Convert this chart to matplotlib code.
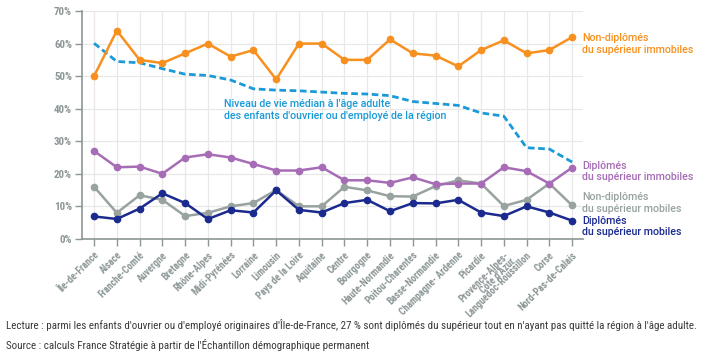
import matplotlib
matplotlib.use("Agg")
import matplotlib.pyplot as plt

regions = ["Île-de-France", "Alsace", "Franche-Comté", "Auvergne", "Bretagne", "Rhône-Alpes",
           "Midi-Pyrénées", "Lorraine", "Limousin", "Pays de la Loire", "Aquitaine", "Centre",
           "Bourgogne", "Haute-Normandie", "Poitou-Charentes", "Basse-Normandie",
           "Champagne- Ardenne", "Picardie", "Provence-Alpes-\nCôte d'Azur",
           "Languedoc-Roussillon", "Corse", "Nord-Pas-de-Calais"]

non_dipl_immobiles = [50, 64, 55, 54, 57, 60, 56, 58, 49, 60, 60, 55, 55, 61.3, 57, 56.3, 53, 58, 61, 57, 58, 62]
dipl_immobiles = [27, 22, 22.2, 20, 25, 26, 25, 23, 21, 21, 22, 18, 18, 17.2, 18.9, 16.8, 17, 17, 22, 20.8, 17, 21.9]
non_dipl_mobiles = [16, 8, 13.4, 12, 7, 8, 10, 11, 15, 10, 10, 16, 14.9, 13.1, 13, 16.2, 18, 17, 10.1, 12, 17, 10.3]
dipl_mobiles = [6.9, 6.1, 9.3, 14, 11, 6.1, 8.8, 8.1, 14.9, 8.9, 8.1, 11, 12, 8.5, 11, 10.9, 12, 8.1, 7, 10, 8.1, 5.6]
niveau_vie = [60.1, 54.5, 54.1, 52.3, 50.6, 50.2, 48.8, 46.1, 45.7, 45.5, 45.1, 44.7, 44.5, 44.0,
              42.2, 41.6, 41.0, 38.7, 37.7, 28.0, 27.6, 23.6]

y_ticks = [0, 10, 20, 30, 40, 50, 60, 70]
y_labels = ["0%", "10%", "20%", "30%", "40%", "50%", "60%", "70%"]

c_orange = "#f7901e"
c_purple = "#a66db6"
c_gray = "#98a3a0"
c_navy = "#1b2a8e"
c_blue = "#1a9ad7"
c_axis = "#8c9696"
c_tick = "#9a9a9a"

plt.rcParams['font.family'] = ['Roboto Condensed', 'Liberation Sans', 'DejaVu Sans']
label_family = ['Roboto', 'Liberation Sans', 'DejaVu Sans']

fig = plt.figure(figsize=(7.05, 3.56), dpi=100)
ax = fig.add_axes([0.116, 0.329, 0.711, 0.64])

x = list(range(len(regions)))
lw = 1.8
ms = 4.5
ax.plot(x, niveau_vie, color=c_blue, lw=2, dashes=(2.4, 1.3), zorder=3)
ax.plot(x, non_dipl_mobiles, color=c_gray, lw=lw, marker='o', ms=ms, zorder=4)
ax.plot(x, dipl_mobiles, color=c_navy, lw=lw, marker='o', ms=ms, zorder=5)
ax.plot(x, dipl_immobiles, color=c_purple, lw=lw, marker='o', ms=ms, zorder=4)
ax.plot(x, non_dipl_immobiles, color=c_orange, lw=lw, marker='o', ms=ms, zorder=4)

ax.set_xlim(-0.54, len(regions) - 1 + 0.48)
ax.set_ylim(0, 70)
ax.set_yticks(y_ticks)
ax.set_yticklabels(y_labels)
ax.set_xticks(x)
ax.set_xticklabels(regions, rotation=45, ha='right', rotation_mode='anchor', linespacing=0.9)

for lab in ax.get_xticklabels():
    lab.set_fontsize(7.0)
    lab.set_color(c_tick)
    lab.set_fontweight('bold')
for lab in ax.get_yticklabels():
    lab.set_fontsize(7.8)
    lab.set_color(c_tick)
    lab.set_fontweight('bold')

ax.grid(True, color="#e8e8e8", lw=0.9, zorder=0)
ax.set_axisbelow(True)
for s in ['top', 'right']:
    ax.spines[s].set_visible(False)
for s in ['left', 'bottom']:
    ax.spines[s].set_color(c_axis)
    ax.spines[s].set_linewidth(1.2)
ax.tick_params(axis='both', colors=c_axis, length=5, width=1, pad=2)
ax.tick_params(axis='x', pad=3)

ax.text(0.283, 0.566, "Niveau de vie médian à l'âge adulte\ndes enfants d'ouvrier ou d'employé de la région",
        transform=ax.transAxes, color=c_blue, fontsize=7.7, fontweight='medium',
        family=label_family, va='center', ha='left', linespacing=1.2)

def side(y, txt, col):
    ax.text(0.998, y, txt, transform=ax.transAxes, color=col, fontsize=7.7,
            fontweight='medium', family=label_family, va='center', ha='left',
            linespacing=1.2, clip_on=False)

side(0.855, "Non-diplômés\ndu supérieur immobiles", c_orange)
side(0.296, "Diplômés\ndu supérieur immobiles", c_purple)
side(0.158, "Non-diplômés\ndu supérieur mobiles", c_gray)
side(0.055, "Diplômés\ndu supérieur mobiles", c_navy)

fig.text(0.008, 1 - 325 / 356,
         "Lecture : parmi les enfants d'ouvrier ou d'employé originaires d'Île-de-France, 27 % sont diplômés du supérieur tout en n'ayant pas quitté la région à l'âge adulte.",
         fontsize=7.9, color="#3a3a3a", va='center', ha='left')
fig.text(0.008, 1 - 345 / 356,
         "Source : calculs France Stratégie à partir de l'Échantillon démographique permanent",
         fontsize=7.9, color="#3a3a3a", va='center', ha='left')

fig.savefig("out.png", dpi=100)
